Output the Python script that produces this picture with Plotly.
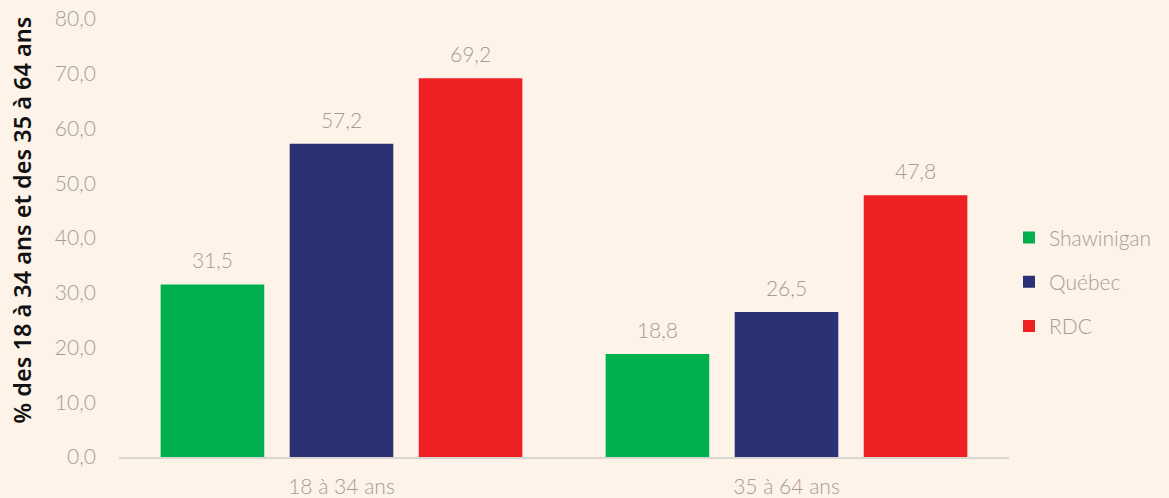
import plotly.graph_objects as go

categories = ["18 à 34 ans", "35 à 64 ans"]
shawinigan = [31.5, 18.8]
quebec = [57.2, 26.5]
rdc = [69.2, 47.8]
series_names = ["Shawinigan", "Québec", "RDC"]
colors = ["#00b04f", "#2b3174", "#ee2024"]
y_ticks = [0, 10, 20, 30, 40, 50, 60, 70, 80]
y_title = "% des 18 à 34 ans et des 35 à 64 ans"

bg = "#fef3e8"
gray = "#a39d97"
font_fam = "Lato"

fig = go.Figure()
for i, (name, vals, col) in enumerate(zip(series_names, [shawinigan, quebec, rdc], colors)):
    fig.add_trace(go.Bar(
        x=categories, y=vals, name=name, marker=dict(color=col, line_width=0),
        offsetgroup=str(i), legendgroup=name,
    ))
for i, (name, vals) in enumerate(zip(series_names, [shawinigan, quebec, rdc])):
    fig.add_trace(go.Scatter(
        x=categories, y=vals, mode="markers+text", showlegend=False,
        offsetgroup=str(i), hoverinfo="skip", cliponaxis=False,
        marker=dict(size=16, opacity=0),
        text=[f"{v:.1f}".replace(".", ",") for v in vals],
        textposition="top center",
        textfont=dict(family=font_fam, size=21, color=gray, weight=300),
    ))

fig.add_annotation(
    text=y_title, textangle=-90, xref="paper", yref="paper",
    x=-0.1086, y=0.541, xanchor="center", yanchor="middle", showarrow=False,
    font=dict(family="Noto Sans", size=23.5, color="#111111", weight=600),
)

fig.update_layout(
    width=1169, height=498,
    paper_bgcolor=bg, plot_bgcolor=bg,
    margin=dict(l=119, r=157, t=19, b=41),
    barmode="group", bargap=0.13, bargroupgap=0.197,
    scattermode="group", scattergap=0.13,
    separators=", ",
    showlegend=True,
    legend=dict(x=1.0, xanchor="left", y=0.4, yanchor="middle",
                font=dict(family=font_fam, size=21, color=gray, weight=300),
                traceorder="grouped", tracegroupgap=14, itemwidth=30,
                bgcolor="rgba(0,0,0,0)"),
    xaxis=dict(showline=True, linecolor="#d9d5d0", linewidth=2, ticks="",
               ticklabelstandoff=10, automargin=False,
               tickfont=dict(family=font_fam, size=21, color=gray, weight=300)),
    yaxis=dict(range=[0, 80], tickvals=y_ticks, tickformat=".1f", showgrid=False,
               zeroline=False, showline=False, ticks="", ticklabelstandoff=22,
               automargin=False,
               tickfont=dict(family=font_fam, size=21, color=gray, weight=300)),
)

fig.write_html("out.html", post_script="document.body.style.margin='0';",
               config={"displayModeBar": False})
